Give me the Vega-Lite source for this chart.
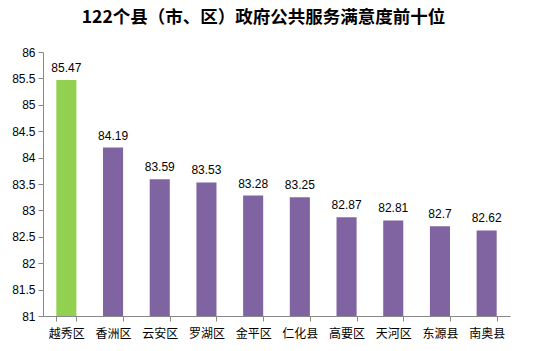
{
  "$schema": "https://vega.github.io/schema/vega-lite/v6.json",
  "autosize": "none",
  "width": 467,
  "height": 264,
  "padding": {"left": 43, "top": 52, "right": 45, "bottom": 35},
  "background": "white",
  "title": {
    "text": "122个县（市、区）政府公共服务满意度前十位",
    "font": "Noto Sans CJK SC",
    "fontSize": 17.5,
    "fontWeight": "bold",
    "color": "#000000",
    "anchor": "middle",
    "dx": -13,
    "offset": 20
  },
  "data": {
    "values": [
      {"name": "越秀区", "score": 85.47, "top": "yes"},
      {"name": "香洲区", "score": 84.19, "top": "no"},
      {"name": "云安区", "score": 83.59, "top": "no"},
      {"name": "罗湖区", "score": 83.53, "top": "no"},
      {"name": "金平区", "score": 83.28, "top": "no"},
      {"name": "仁化县", "score": 83.25, "top": "no"},
      {"name": "高要区", "score": 82.87, "top": "no"},
      {"name": "天河区", "score": 82.81, "top": "no"},
      {"name": "东源县", "score": 82.7, "top": "no"},
      {"name": "南奥县", "score": 82.62, "top": "no"}
    ]
  },
  "encoding": {
    "x": {
      "field": "name",
      "type": "nominal",
      "sort": null,
      "scale": {"paddingInner": 0.57, "paddingOuter": 0.285},
      "axis": {
        "title": null,
        "labelAngle": 0,
        "labelFont": "Noto Sans CJK SC",
        "labelFontSize": 12,
        "labelColor": "#000000",
        "labelPadding": 7,
        "tickBand": "extent",
        "tickSize": 5,
        "tickColor": "#888888",
        "domainColor": "#888888"
      }
    },
    "y": {
      "field": "score",
      "type": "quantitative",
      "scale": {"domain": [81, 86], "zero": false},
      "axis": {
        "title": null,
        "values": [81, 81.5, 82, 82.5, 83, 83.5, 84, 84.5, 85, 85.5, 86],
        "format": "~g",
        "grid": false,
        "labelFont": "Liberation Sans",
        "labelFontSize": 12,
        "labelColor": "#000000",
        "labelPadding": 3,
        "tickSize": 5,
        "tickColor": "#888888",
        "domainColor": "#888888"
      }
    }
  },
  "layer": [
    {
      "mark": {"type": "bar", "clip": true},
      "encoding": {
        "color": {
          "field": "top",
          "type": "nominal",
          "scale": {"domain": ["yes", "no"], "range": ["#92D050", "#8064A2"]},
          "legend": null
        }
      }
    },
    {
      "mark": {"type": "text", "dy": -12, "font": "Liberation Sans", "fontSize": 12, "color": "#000000"},
      "encoding": {"text": {"field": "score", "type": "quantitative"}}
    }
  ],
  "config": {"view": {"stroke": null}}
}
